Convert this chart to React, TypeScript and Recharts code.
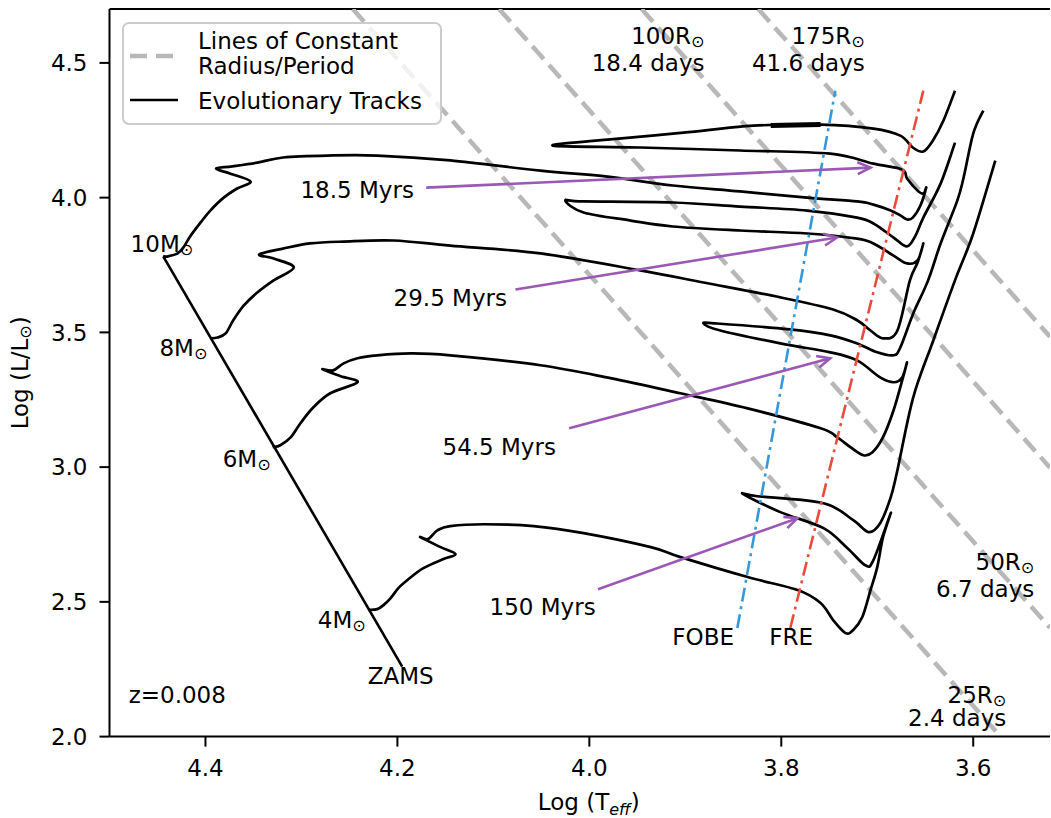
import React from "react";
import {
  ComposedChart,
  Line,
  Scatter,
  XAxis,
  YAxis,
  ReferenceLine,
  Legend,
} from "recharts";

const FONT = "DejaVu Sans";
const GRAY = "#b8b8b8";
const PURPLE = "#9b59b6";
const BLUE = "#3498db";
const RED = "#e74c3c";

const xTicks = [4.4, 4.2, 4.0, 3.8, 3.6];
const yTicks = [2.0, 2.5, 3.0, 3.5, 4.0, 4.5];

// all points are [log Teff, log L/Lsun]
const zams = [
  [4.444, 3.782],
  [4.195, 2.26],
];

const track10 = [
  [4.444, 3.782], [4.439, 3.782], [4.429, 3.793], [4.423, 3.815], [4.416, 3.856],
  [4.405, 3.908], [4.395, 3.952], [4.381, 4.0], [4.367, 4.034], [4.353, 4.06],
  [4.374, 4.089], [4.389, 4.108], [4.372, 4.116], [4.346, 4.13], [4.319, 4.149],
  [4.273, 4.156], [4.221, 4.156], [4.145, 4.138], [4.051, 4.1], [3.981, 4.078],
  [3.913, 4.045], [3.843, 4.023], [3.773, 4.0], [3.721, 3.986], [3.704, 3.974],
  [3.686, 3.952], [3.676, 3.934], [3.669, 3.919], [3.663, 3.926], [3.655, 3.971],
  [3.649, 4.037], [3.652, 4.015], [3.658, 4.026], [3.669, 4.071], [3.674, 4.104],
  [3.704, 4.126], [3.749, 4.163], [3.843, 4.175], [3.947, 4.186], [4.038, 4.193],
  [3.981, 4.215], [3.902, 4.241], [3.829, 4.267], [3.759, 4.271], [3.704, 4.256],
  [3.676, 4.23], [3.663, 4.186], [3.652, 4.171], [3.642, 4.212], [3.631, 4.286],
  [3.619, 4.397],
];

// dense noisy stretch on the 10 Msun loop
const track10Knot = [
  [3.811, 4.268],
  [3.759, 4.271],
];

const track8 = [
  [4.395, 3.478], [4.3875, 3.481], [4.379, 3.496], [4.371, 3.545], [4.36, 3.6],
  [4.346, 3.648], [4.329, 3.693], [4.308, 3.741], [4.329, 3.774], [4.344, 3.789],
  [4.319, 3.811], [4.291, 3.83], [4.256, 3.837], [4.204, 3.841], [4.145, 3.822],
  [4.051, 3.793], [3.947, 3.73], [3.881, 3.685], [3.801, 3.63], [3.746, 3.585],
  [3.721, 3.545], [3.707, 3.507], [3.694, 3.478], [3.679, 3.507], [3.666, 3.693],
  [3.658, 3.759], [3.652, 3.83], [3.658, 3.767], [3.669, 3.756], [3.683, 3.785],
  [3.704, 3.83], [3.721, 3.848], [3.773, 3.867], [3.843, 3.878], [3.913, 3.893],
  [3.957, 3.915], [4.006, 3.945], [4.025, 3.989], [4.006, 3.986], [3.913, 3.982],
  [3.843, 3.967], [3.773, 3.952], [3.721, 3.926], [3.704, 3.904], [3.683, 3.852],
  [3.669, 3.819], [3.66, 3.86], [3.652, 3.926], [3.634, 4.052], [3.619, 4.204],
];

const track6 = [
  [4.33, 3.074], [4.322, 3.081], [4.311, 3.111], [4.301, 3.163], [4.2875, 3.222],
  [4.27, 3.274], [4.2416, 3.315], [4.259, 3.337], [4.278, 3.363], [4.267, 3.359],
  [4.256, 3.385], [4.2416, 3.404], [4.221, 3.415], [4.186, 3.422], [4.145, 3.415],
  [4.051, 3.378], [3.978, 3.33], [3.905, 3.274], [3.835, 3.218], [3.759, 3.144],
  [3.742, 3.111], [3.728, 3.074], [3.7145, 3.044], [3.705, 3.055], [3.694, 3.111],
  [3.683, 3.211], [3.674, 3.322], [3.669, 3.389], [3.674, 3.333], [3.683, 3.315],
  [3.697, 3.333], [3.721, 3.396], [3.749, 3.426], [3.801, 3.459], [3.8635, 3.507],
  [3.881, 3.533], [3.867, 3.533], [3.791, 3.511], [3.749, 3.489], [3.721, 3.459],
  [3.7, 3.426], [3.683, 3.415], [3.676, 3.444], [3.6625, 3.57], [3.647, 3.693],
  [3.634, 3.83], [3.6166, 3.989], [3.61, 4.0745], [3.6, 4.2375], [3.5895, 4.323],
];

const track4 = [
  [4.23, 2.47], [4.221, 2.473], [4.2145, 2.488], [4.207, 2.514], [4.199, 2.551],
  [4.1895, 2.581], [4.173, 2.625], [4.152, 2.659], [4.1395, 2.677], [4.155, 2.703],
  [4.176, 2.74], [4.168, 2.733], [4.158, 2.766], [4.145, 2.781], [4.11, 2.788],
  [4.058, 2.781], [4.006, 2.755], [3.936, 2.703], [3.905, 2.666], [3.835, 2.592],
  [3.783, 2.544], [3.759, 2.496], [3.746, 2.4325], [3.733, 2.384], [3.725, 2.3955],
  [3.7156, 2.4436], [3.707, 2.544], [3.7, 2.629], [3.694, 2.74], [3.686, 2.829],
  [3.704, 2.655], [3.7125, 2.636], [3.731, 2.699], [3.756, 2.7735], [3.801, 2.833],
  [3.8395, 2.8995], [3.825, 2.892], [3.756, 2.866], [3.725, 2.803], [3.709, 2.759],
  [3.697, 2.792], [3.686, 2.888], [3.679, 2.9885], [3.6625, 3.259], [3.6416, 3.47],
  [3.619, 3.693], [3.6, 3.867], [3.577, 4.1375],
];

// lines of constant radius (edge to edge of the axes)
const radius25 = [[4.2465, 4.7], [3.5715, 2.0]];
const radius50 = [[4.094, 4.7], [3.52, 2.404]];
const radius100 = [[3.9455, 4.7], [3.52, 2.998]];
const radius175 = [[3.824, 4.7], [3.52, 3.484]];

// instability strip edges
const fobe = [[3.8458, 2.403], [3.7437, 4.397]];
const fre = [[3.7906, 2.403], [3.652, 4.397]];

// isochrone arrows, text end -> tip
const arrow185 = [[4.17, 4.037], [3.707, 4.1115]];
const arrow295 = [[4.077, 3.659], [3.742, 3.852]];
const arrow545 = [[4.021, 3.144], [3.749, 3.4036]];
const arrow150 = [[3.991, 2.547], [3.783, 2.8106]];

const leftLabels = [
  { T: 4.478, L: 3.83, text: "10M⊙" },
  { T: 4.448, L: 3.444, text: "8M⊙" },
  { T: 4.382, L: 3.033, text: "6M⊙" },
  { T: 4.283, L: 2.4325, text: "4M⊙" },
  { T: 4.231, L: 2.225, text: "ZAMS" },
  { T: 4.48, L: 2.1545, text: "z=0.008" },
  { T: 4.301, L: 4.03, text: "18.5 Myrs" },
  { T: 4.204, L: 3.63, text: "29.5 Myrs" },
  { T: 4.153, L: 3.0775, text: "54.5 Myrs" },
  { T: 4.104, L: 2.481, text: "150 Myrs" },
  { T: 3.9135, L: 2.3695, text: "FOBE" },
  { T: 3.8125, L: 2.3695, text: "FRE" },
];

const rightLabels = [
  { T: 3.88, L: 4.601, text: "100R⊙" },
  { T: 3.88, L: 4.5007, text: "18.4 days" },
  { T: 3.713, L: 4.601, text: "175R⊙" },
  { T: 3.713, L: 4.5007, text: "41.6 days" },
  { T: 3.5364, L: 2.6475, text: "50R⊙" },
  { T: 3.5364, L: 2.5474, text: "6.7 days" },
  { T: 3.5656, L: 2.155, text: "25R⊙" },
  { T: 3.5656, L: 2.069, text: "2.4 days" },
];

const toPts = (a: number[][]) => a.map(([T, L]) => ({ T, L }));

const smooth: any = (ctx: any) => {
  let p: number[][] = [];
  return {
    areaStart() {},
    areaEnd() {},
    lineStart() {
      p = [];
    },
    point(x: number, y: number) {
      p.push([+x, +y]);
    },
    lineEnd() {
      if (!p.length) return;
      ctx.moveTo(p[0][0], p[0][1]);
      for (let i = 0; i < p.length - 1; i++) {
        const p0 = p[i - 1] || p[i];
        const p1 = p[i];
        const p2 = p[i + 1];
        const p3 = p[i + 2] || p2;
        ctx.bezierCurveTo(
          p1[0] + (p2[0] - p0[0]) / 6,
          p1[1] + (p2[1] - p0[1]) / 6,
          p2[0] - (p3[0] - p1[0]) / 6,
          p2[1] - (p3[1] - p1[1]) / 6,
          p2[0],
          p2[1]
        );
      }
    },
  };
};

const arrowHead = () => {
  let start: { x: number; y: number } | null = null;
  return (props: any) => {
    const { cx, cy, index } = props;
    if (index === 0 || !start) {
      start = { x: cx, y: cy };
      return <g key={`ah-${index}`} />;
    }
    const a = Math.atan2(cy - start.y, cx - start.x);
    const len = 13;
    const half = 6;
    const bx = cx - len * Math.cos(a);
    const by = cy - len * Math.sin(a);
    const px = -Math.sin(a) * half;
    const py = Math.cos(a) * half;
    return (
      <polyline
        key={`ah-${index}`}
        points={`${bx + px},${by + py} ${cx},${cy} ${bx - px},${by - py}`}
        fill="none"
        stroke={PURPLE}
        strokeWidth={2.6}
      />
    );
  };
};

const textShape = (anchor: "start" | "end") => (props: any) => {
  const { cx, cy, payload } = props;
  const s: string = payload.text;
  const sun = s.endsWith("⊙");
  const main = sun ? s.slice(0, -1) : s;
  return (
    <text
      x={cx}
      y={cy}
      dy="0.36em"
      textAnchor={anchor}
      fontFamily={FONT}
      fontSize={23}
      fill="#000"
    >
      {main}
      {sun && (
        <tspan fontSize={16} dy={3}>
          ⊙
        </tspan>
      )}
    </text>
  );
};

const xLabel = (props: any) => {
  const { viewBox } = props;
  const cx = viewBox.x + viewBox.width / 2 + 9;
  const cy = viewBox.y + 65.5;
  return (
    <text x={cx} y={cy} dy="0.36em" textAnchor="middle" fontFamily={FONT} fontSize={23} fill="#000">
      Log (T
      <tspan fontSize={16} fontStyle="italic" dy={5}>
        eff
      </tspan>
      <tspan dy={-5}>)</tspan>
    </text>
  );
};

const yLabel = (props: any) => {
  const { viewBox } = props;
  const cx = viewBox.x + 10.5;
  const cy = viewBox.y + viewBox.height / 2;
  return (
    <text
      x={cx}
      y={cy}
      dy="0.36em"
      transform={`rotate(-90 ${cx} ${cy})`}
      textAnchor="middle"
      fontFamily={FONT}
      fontSize={23}
      fill="#000"
    >
      Log (L/L
      <tspan fontSize={16} dy={3}>
        ⊙
      </tspan>
      <tspan dy={-3}>)</tspan>
    </text>
  );
};

const renderLegend = () => (
  <div
    style={{
      position: "relative",
      width: 320,
      height: 103,
      boxSizing: "border-box",
      border: "2px solid #cccccc",
      borderRadius: 7,
      background: "rgba(255,255,255,0.8)",
      fontFamily: FONT,
      fontSize: 23,
      color: "#000",
    }}
  >
    <svg width={60} height={99} style={{ position: "absolute", left: 0, top: 0 }}>
      <line x1={6} x2={54} y1={32} y2={32} stroke={GRAY} strokeWidth={4.5} strokeDasharray="17 9" />
      <line x1={6} x2={54} y1={76} y2={76} stroke="#000" strokeWidth={2.6} />
    </svg>
    <div style={{ position: "absolute", left: 74, top: 5, lineHeight: "25px", whiteSpace: "nowrap" }}>
      Lines of Constant
      <br />
      Radius/Period
    </div>
    <div style={{ position: "absolute", left: 74, top: 65, lineHeight: "25px", whiteSpace: "nowrap" }}>
      Evolutionary Tracks
    </div>
  </div>
);

const axisStroke = { stroke: "#000", strokeWidth: 2 };
const tickStyle = { fontSize: 23, fill: "#000", fontFamily: FONT };

export default function App() {
  const track = (d: number[][], key: string) => (
    <Line
      key={key}
      data={toPts(d)}
      dataKey="L"
      type={smooth}
      stroke="#000"
      strokeWidth={2.7}
      strokeLinejoin="round"
      dot={false}
      activeDot={false}
      isAnimationActive={false}
    />
  );
  const radius = (d: number[][], key: string) => (
    <Line
      key={key}
      data={toPts(d)}
      dataKey="L"
      type="linear"
      stroke={GRAY}
      strokeWidth={4.5}
      strokeDasharray="17 8"
      dot={false}
      activeDot={false}
      isAnimationActive={false}
    />
  );
  const strip = (d: number[][], color: string, key: string) => (
    <Line
      key={key}
      data={toPts(d)}
      dataKey="L"
      type="linear"
      stroke={color}
      strokeWidth={2.6}
      strokeDasharray="14 5 3 5"
      dot={false}
      activeDot={false}
      isAnimationActive={false}
    />
  );
  const arrow = (d: number[][], key: string) => (
    <Line
      key={key}
      data={toPts(d)}
      dataKey="L"
      type="linear"
      stroke={PURPLE}
      strokeWidth={2.6}
      dot={arrowHead()}
      activeDot={false}
      isAnimationActive={false}
    />
  );

  return (
    <div style={{ position: "absolute", left: 8, top: 8, width: 1042, height: 810 }}>
      <ComposedChart
        width={1042}
        height={810}
        margin={{ top: 1, right: 0, left: 1.5, bottom: 9.4 }}
      >
        <XAxis
          type="number"
          dataKey="T"
          domain={[3.52, 4.5]}
          reversed
          allowDataOverflow
          ticks={xTicks}
          tickFormatter={(v: number) => v.toFixed(1)}
          tick={tickStyle}
          tickSize={10}
          tickMargin={13}
          tickLine={axisStroke}
          axisLine={axisStroke}
          height={72}
          label={xLabel}
        />
        <YAxis
          type="number"
          dataKey="L"
          domain={[2.0, 4.7]}
          allowDataOverflow
          ticks={yTicks}
          tickFormatter={(v: number) => v.toFixed(1)}
          tick={tickStyle}
          tickSize={10}
          tickMargin={12}
          tickLine={axisStroke}
          axisLine={axisStroke}
          width={100}
          label={yLabel}
        />
        <ReferenceLine y={4.7} stroke="#000" strokeWidth={2} />

        {radius(radius25, "r25")}
        {radius(radius50, "r50")}
        {radius(radius100, "r100")}
        {radius(radius175, "r175")}

        <Line
          data={toPts(zams)}
          dataKey="L"
          type="linear"
          stroke="#000"
          strokeWidth={2.6}
          dot={false}
          activeDot={false}
          isAnimationActive={false}
        />
        {track(track10, "t10")}
        {track(track8, "t8")}
        {track(track6, "t6")}
        {track(track4, "t4")}
        <Line
          data={toPts(track10Knot)}
          dataKey="L"
          type="linear"
          stroke="#000"
          strokeWidth={5}
          dot={false}
          activeDot={false}
          isAnimationActive={false}
        />

        {strip(fobe, BLUE, "fobe")}
        {strip(fre, RED, "fre")}

        {arrow(arrow185, "a185")}
        {arrow(arrow295, "a295")}
        {arrow(arrow545, "a545")}
        {arrow(arrow150, "a150")}

        <Scatter data={leftLabels} dataKey="L" shape={textShape("start")} isAnimationActive={false} />
        <Scatter data={rightLabels} dataKey="L" shape={textShape("end")} isAnimationActive={false} />

        <Legend
          layout="horizontal"
          verticalAlign="middle"
          align="center"
          content={renderLegend}
          wrapperStyle={{ left: 114, top: 14, width: 320, height: 103 }}
        />
      </ComposedChart>
    </div>
  );
}
